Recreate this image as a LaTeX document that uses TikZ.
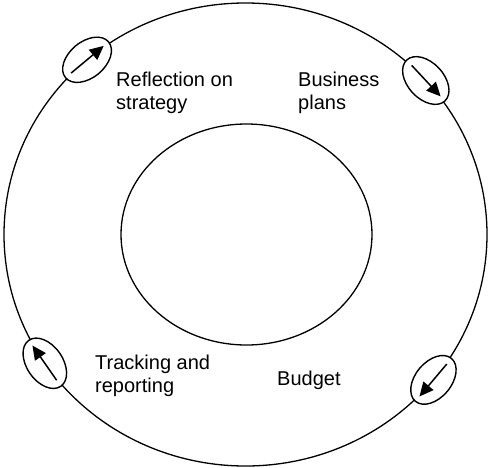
\documentclass[tikz,border=0pt]{standalone}
\usepackage{fontspec}
\setmainfont{Liberation Sans}
\usetikzlibrary{shapes.geometric,arrows.meta,calc}
\begin{document}
\begin{tikzpicture}[x=1pt,y=1pt,
  ring/.style={draw, ellipse, line width=1.3pt, inner sep=0pt},
  marker/.style={draw, ellipse, line width=1.4pt, fill=white, inner sep=0pt,
    minimum width=56pt, minimum height=36pt},
  arr/.style={line width=1.5pt, -{Triangle[length=14pt,width=13pt]},
    shorten <=8pt, shorten >=7pt},
  lbl/.style={anchor=north west, align=left, inner sep=0pt,
    font=\fontsize{20}{23}\selectfont}]
\useasboundingbox (0,0) rectangle (491,-467);
\coordinate (c) at (245.5,-234.5);
\node[ring, minimum width=483pt, minimum height=463pt] (outer) at (c) {};
\node[ring, minimum width=251pt, minimum height=221pt] (inner) at (246.5,-234.5) {};
\node[marker, rotate=39.8] (m1) at ($(c)+(131:241.5 and 231.5)$) {};
\node[marker, rotate=-47] (m2) at ($(c)+(41.7:241.5 and 231.5)$) {};
\node[marker, rotate=229.9] (m3) at ($(c)+(-38.9:241.5 and 231.5)$) {};
\node[marker, rotate=124.9] (m4) at ($(c)+(213.8:241.5 and 231.5)$) {};
\foreach \m in {m1,m2,m3,m4} \draw[arr] (\m.west) -- (\m.east);
\node[lbl] (t1) at (116,-72) {Reflection on\\strategy};
\node[lbl] (t2) at (298,-72) {Business\\plans};
\node[lbl] (t3) at (95,-355) {Tracking and\\reporting};
\node[lbl] (t4) at (277,-371) {Budget};
\end{tikzpicture}
\end{document}
